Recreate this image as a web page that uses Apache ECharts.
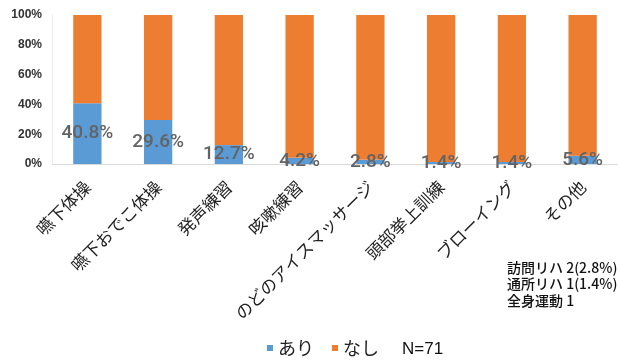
<!DOCTYPE html>
<html>
<head>
<meta charset="utf-8">
<script src="https://cdn.jsdelivr.net/npm/echarts@6/dist/echarts.min.js"></script>
<style>
  html, body { margin: 0; padding: 0; background: #fff; }
  #chart { width: 618px; height: 364px; }
</style>
</head>
<body>
<div id="chart"></div>
<script>
// Exercise categories
const categories = ['嚥下体操', '嚥下おでこ体操', '発声練習', '咳嗽練習', 'のどのアイスマッサージ', '頭部挙上訓練', 'ブローイング', 'その他'];
// Share of respondents (%)
const ariValues = [40.8, 29.6, 12.7, 4.2, 2.8, 1.4, 1.4, 5.6];
const nashiValues = [59.2, 70.4, 87.3, 95.8, 97.2, 98.6, 98.6, 94.4];
// Notes on "その他"
const otherNotes = ['訪問リハ 2(2.8%)', '通所リハ 1(1.4%)', '全身運動 1'];
const sampleSize = 'N=71';

const chart = echarts.init(document.getElementById('chart'));
chart.setOption({
  animation: false,
  grid: { left: 52, right: -8, top: 15, bottom: 200 },
  legend: {
    data: ['あり', 'なし'],
    left: 267,
    top: 339,
    padding: 0,
    itemWidth: 6,
    itemHeight: 6,
    itemGap: 18,
    icon: 'rect',
    textStyle: { fontSize: 18, color: '#222', fontFamily: 'Noto Sans CJK JP' }
  },
  xAxis: {
    type: 'category',
    data: categories,
    axisLine: { lineStyle: { color: '#d9d9d9' } },
    axisTick: { show: false },
    axisLabel: {
      rotate: 45,
      interval: 0,
      margin: 20,
      fontSize: 17,
      color: '#222',
      fontFamily: 'Noto Sans CJK JP'
    }
  },
  yAxis: {
    type: 'value',
    min: 0,
    max: 100,
    interval: 20,
    axisLine: { show: true, lineStyle: { color: '#ececec' } },
    axisTick: { show: false },
    splitLine: { show: false },
    axisLabel: {
      formatter: '{value}%',
      fontSize: 12,
      fontWeight: 'bold',
      color: '#333',
      margin: 10,
      fontFamily: 'Liberation Sans'
    }
  },
  series: [
    {
      name: 'あり',
      type: 'bar',
      stack: 'total',
      barWidth: '40%',
      data: ariValues,
      itemStyle: { color: '#5B9BD5' },
      label: {
        show: true,
        position: 'inside',
        formatter: p => p.value.toFixed(1) + '%',
        fontSize: 19,
        fontWeight: 500,
        color: '#636363',
        fontFamily: 'Roboto'
      }
    },
    {
      name: 'なし',
      type: 'bar',
      stack: 'total',
      data: nashiValues,
      itemStyle: { color: '#ED7D31' }
    }
  ],
  graphic: [
    {
      type: 'text',
      left: 402,
      top: 341,
      style: { text: sampleSize, fontSize: 17, fill: '#111', fontFamily: 'Liberation Sans' }
    },
    {
      type: 'text',
      left: 507,
      top: 259,
      style: {
        text: otherNotes.join('\n'),
        fontSize: 14,
        fontWeight: 500,
        lineHeight: 16.5,
        fill: '#111',
        fontFamily: 'Noto Sans CJK JP'
      }
    }
  ]
});
</script>
</body>
</html>
